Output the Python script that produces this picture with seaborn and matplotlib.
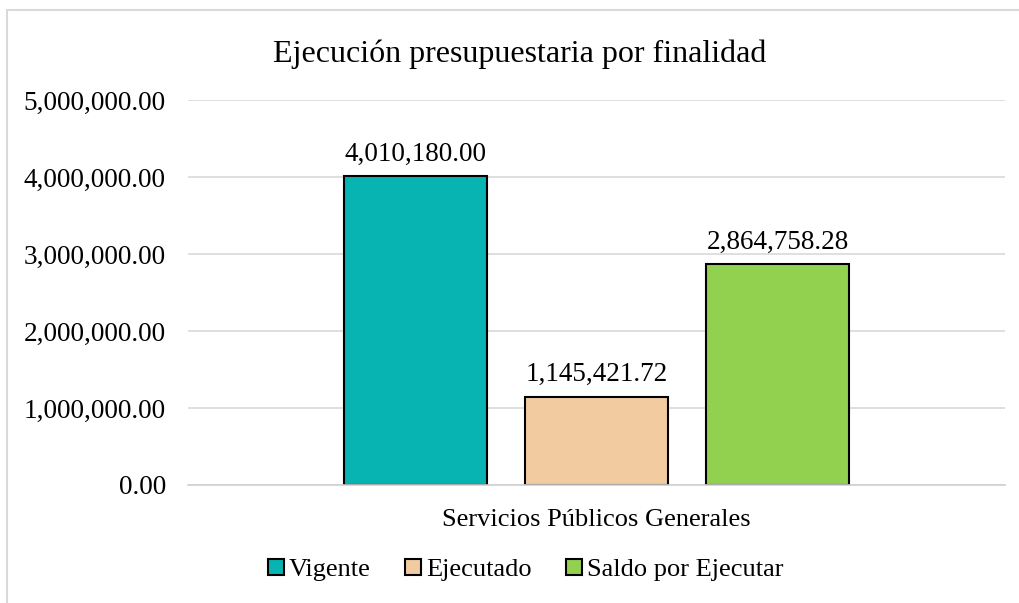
import matplotlib
matplotlib.use("Agg")
import matplotlib.pyplot as plt
import seaborn as sns
import pandas as pd
from matplotlib.patches import Patch, Rectangle

categories = ["Servicios Públicos Generales"]
series = ["Vigente", "Ejecutado", "Saldo por Ejecutar"]
values = [4010180.00, 1145421.72, 2864758.28]
colors = ["#07B4B2", "#F3CBA1", "#92D050"]
yticks = [0, 1000000, 2000000, 3000000, 4000000, 5000000]
title = "Ejecución presupuestaria por finalidad"

df = pd.DataFrame({
    "Finalidad": categories * len(series),
    "Serie": series,
    "Monto": values,
})

sns.set_theme(style="white")
plt.rcParams["font.family"] = ["Liberation Serif", "DejaVu Serif"]
plt.rcParams["text.color"] = "black"
plt.rcParams["xtick.color"] = "black"
plt.rcParams["ytick.color"] = "black"

fig = plt.figure(figsize=(10.2, 6.03), dpi=100)
ax = fig.add_axes([188/1020, 1-485/603, (1005-188)/1020, (485-100)/603])

sns.barplot(data=df, x="Finalidad", y="Monto", hue="Serie", hue_order=series,
            palette=colors, width=0.665, gap=0.21, edgecolor="black",
            linewidth=1.5, ax=ax, legend=False, errorbar=None, saturation=1)

ax.set_ylim(0, 5000000)
ax.set_yticks(yticks)
ax.set_yticklabels([f"{v:,.2f}" for v in yticks], fontsize=19.6)
ax.tick_params(axis="y", length=0, pad=16, labelcolor="black")
ax.tick_params(axis="x", length=0, pad=17, labelsize=19, labelcolor="black")
ax.set_xlabel("")
ax.set_ylabel("")
ax.yaxis.grid(True, color="#D9D9D9", linewidth=1.2)
ax.set_axisbelow(True)
for s in ["top", "right", "left"]:
    ax.spines[s].set_visible(False)
ax.spines["bottom"].set_color("#D0D0D0")
ax.spines["bottom"].set_linewidth(1.2)

for cont in ax.containers:
    ax.bar_label(cont, labels=[f"{v:,.2f}" for v in cont.datavalues],
                 fontsize=19.5, padding=7, color="black")

fig.text(520/1020, 1-54/603, title, ha="center", va="center", fontsize=23, color="black")

handles = [Patch(facecolor=c, edgecolor="black", linewidth=1.5) for c in colors]
fig.legend(handles, series, loc="center", bbox_to_anchor=(526/1020, 1-570/603),
           ncol=3, frameon=False, fontsize=19, handlelength=0.6, handleheight=0.6,
           handletextpad=0.2, columnspacing=1.3, labelcolor="black")

fig.add_artist(Rectangle((7/1020, -0.1), 1.2, 1-10/603+0.1, transform=fig.transFigure,
                         fill=False, edgecolor="#D9D9D9", linewidth=1.5))

fig.savefig("out.png", dpi=100)
